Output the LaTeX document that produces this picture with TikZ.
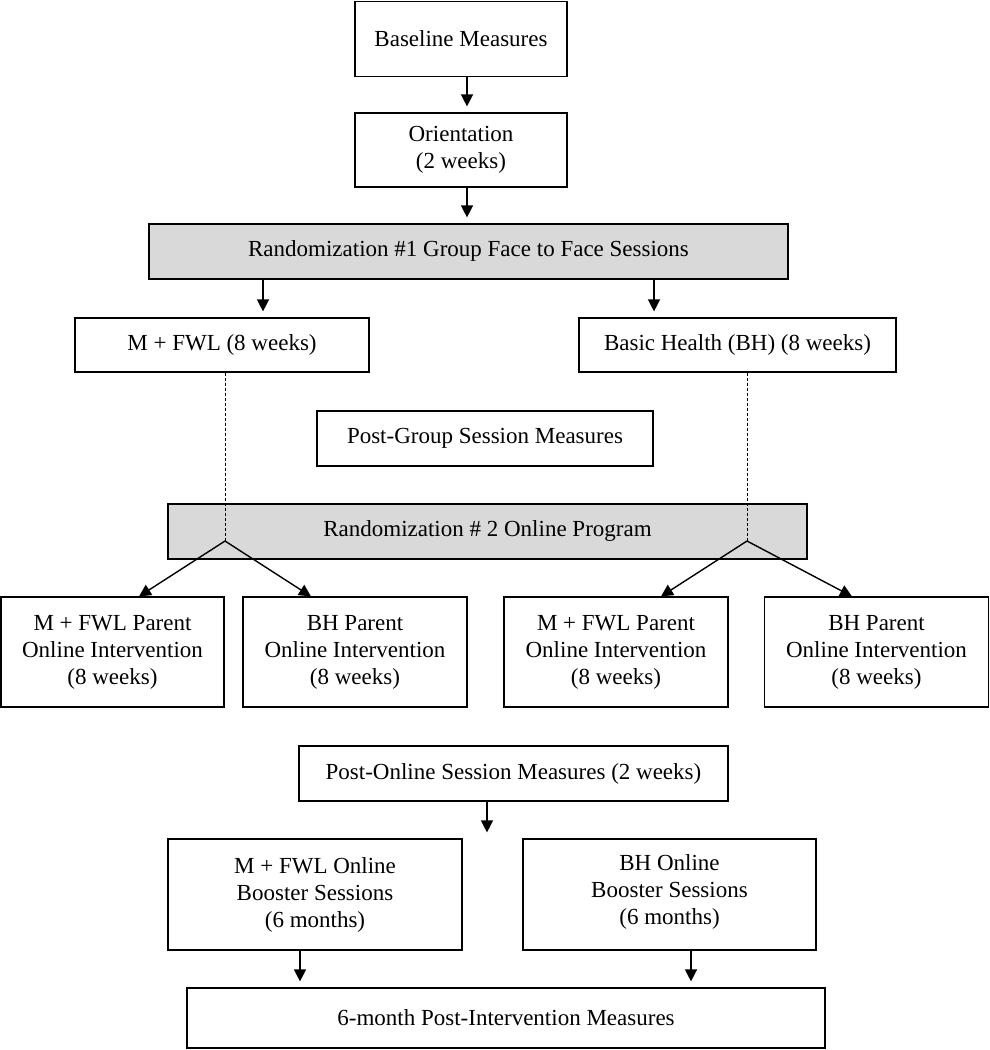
\documentclass[tikz,border=0pt]{standalone}
\usepackage{fontspec}
\setmainfont{Liberation Serif}
\usetikzlibrary{arrows.meta}

\begin{document}
\begin{tikzpicture}[x=1pt, y=-1pt, align=center,
    stage/.style={draw=black, line width=1.2pt, inner sep=0pt, fill=white,
      font=\fontsize{23}{27}\selectfont},
    randbox/.style={stage, fill=black!15},
    arr/.style={-{Triangle[length=12pt, width=12pt]}, line width=1.4pt},
    link/.style={line width=0.8pt, dash pattern=on 3pt off 2pt}]

    \useasboundingbox (0,0) rectangle (990,1050);

    % upper chain
    \node(base)   [stage, minimum width=212pt, minimum height=75pt] at (461,39)    {Baseline Measures};
    \node(orient) [stage, minimum width=212pt, minimum height=74pt] at (461,150)   {Orientation\\(2 weeks)};
    \node(rand1)  [randbox, minimum width=639pt, minimum height=55pt] at (468.5,251.5) {\strut Randomization \#1 Group Face to Face Sessions};
    \node(mfwl)   [stage, minimum width=294pt, minimum height=54pt] at (222,345)   {M + FWL (8 weeks)};
    \node(bh)     [stage, minimum width=317pt, minimum height=54pt] at (737.5,345) {Basic Health (BH) (8 weeks)};
    \node(pgroup) [stage, minimum width=336pt, minimum height=55pt] at (485,438.5) {Post-Group Session Measures};
    \node(rand2)  [randbox, minimum width=639pt, minimum height=55pt] at (487.5,531.5) {\strut Randomization \# 2 Online Program};

    % online arms
    \node(par1) [stage, minimum width=223pt, minimum height=110pt] at (112.5,652) {M + FWL Parent\\Online Intervention\\(8 weeks)};
    \node(par2) [stage, minimum width=224pt, minimum height=110pt] at (355,652)   {BH Parent\\Online Intervention\\(8 weeks)};
    \node(par3) [stage, minimum width=224pt, minimum height=110pt] at (616,652)   {M + FWL Parent\\Online Intervention\\(8 weeks)};
    \node(par4) [stage, minimum width=224pt, minimum height=110pt] at (876.5,652) {BH Parent\\Online Intervention\\(8 weeks)};

    % lower chain
    \node(ponline) [stage, minimum width=429pt, minimum height=55pt] at (513.5,773.5) {Post-Online Session Measures (2 weeks)};
    \node(boost1)  [stage, minimum width=294pt, minimum height=111pt] at (315,894.5)  {M + FWL Online\\Booster Sessions\\(6 months)};
    \node(boost2)  [stage, minimum width=293pt, minimum height=111pt] at (669.5,894.5) {BH Online\\Booster Sessions\\(6 months)\\[-17pt]};
    \node(final)   [stage, minimum width=638pt, minimum height=60pt] at (506,1018)    {6-month Post-Intervention Measures};

    % arrow columns and split points
    \coordinate(cTop)  at (467,0);
    \coordinate(cL)    at (263,0);
    \coordinate(cR)    at (654,0);
    \coordinate(cMid)  at (487,0);
    \coordinate(cBL)   at (300,0);
    \coordinate(cBR)   at (691,0);
    \coordinate(apexL) at (225,541);
    \coordinate(apexR) at (747,541);

    \draw [arr, shorten >=6pt] (base.south -| cTop) to (orient.north -| cTop);
    \draw [arr, shorten >=6pt] (orient.south -| cTop) to (rand1.north -| cTop);
    \draw [arr, shorten >=6pt] (rand1.south -| cL) to (mfwl.north -| cL);
    \draw [arr, shorten >=6pt] (rand1.south -| cR) to (bh.north -| cR);

    \draw [link] (mfwl.south -| apexL) to (apexL);
    \draw [link] (bh.south -| apexR) to (apexR);

    \draw [arr] (apexL) to ([xshift=-86pt]par1.north -| apexL);
    \draw [arr] (apexL) to ([xshift=86pt]par2.north -| apexL);
    \draw [arr] (apexR) to ([xshift=-86pt]par3.north -| apexR);
    \draw [arr] (apexR) to ([xshift=105pt]par4.north -| apexR);

    \draw [arr, shorten >=6pt] (ponline.south -| cMid) to (boost1.north -| cMid);
    \draw [arr, shorten >=6pt] (boost1.south -| cBL) to (final.north -| cBL);
    \draw [arr, shorten >=6pt] (boost2.south -| cBR) to (final.north -| cBR);

  \end{tikzpicture}
\end{document}
